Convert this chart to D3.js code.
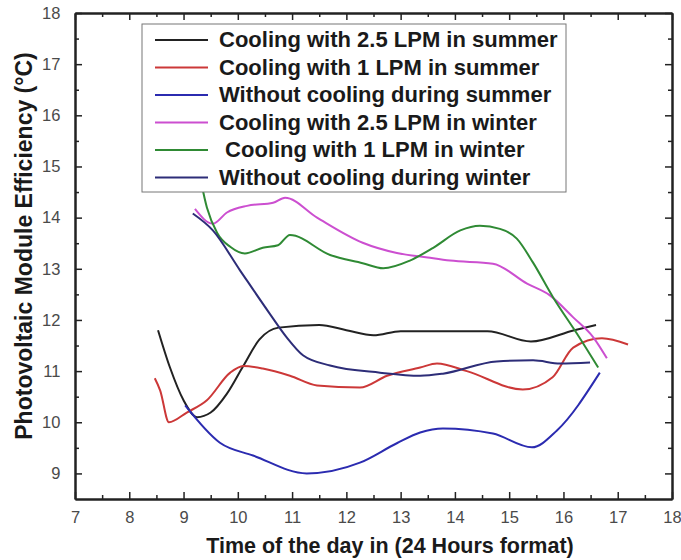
<!DOCTYPE html>
<html>
<head>
<meta charset="utf-8">
<script src="https://cdn.jsdelivr.net/npm/d3@7"></script>
<style>
  body{margin:0;background:#fff;}
  text{font-family:"Liberation Sans",Arial,sans-serif;}
</style>
</head>
<body>
<div id="chart"></div>
<script>
var width=681,height=560;
var margin={left:75,top:13,right:9,bottom:61};

var xTicks=[7,8,9,10,11,12,13,14,15,16,17,18];
var yTicks=[9,10,11,12,13,14,15,16,17,18];

var seriesNames=["Cooling with 2.5 LPM in summer","Cooling with 1 LPM in summer","Without cooling during summer",
                 "Cooling with 2.5 LPM in winter"," Cooling with 1 LPM in winter","Without cooling during winter"];
var colors=["#222222","#cc3838","#2b2bb0","#cc4fd0","#2f8a34","#2d2d78"];

var cool25Summer=[[8.53,11.8],[8.75,11.07],[9.0,10.43],[9.25,10.1],[9.5,10.19],[9.8,10.56],[10.1,11.1],[10.4,11.62],
  [10.75,11.85],[11.5,11.9],[12.0,11.8],[12.5,11.7],[13.0,11.78],[14.6,11.78],[15.4,11.58],[16.2,11.8],[16.6,11.9]];
var cool1Summer=[[8.47,10.86],[8.57,10.62],[8.73,10.0],[9.06,10.19],[9.43,10.43],[9.86,10.97],[10.1,11.1],[10.46,11.05],
  [10.96,10.91],[11.46,10.72],[12.25,10.68],[12.75,10.91],[13.36,11.07],[13.67,11.15],[14.22,11.0],[15.25,10.64],
  [15.8,10.88],[16.18,11.46],[16.71,11.64],[17.19,11.52]];
var noCoolSummer=[[9.03,10.33],[9.67,9.6],[10.28,9.35],[11.27,9.0],[12.25,9.21],[12.93,9.59],[13.36,9.8],[13.78,9.88],
  [14.7,9.78],[15.42,9.51],[15.88,9.84],[16.67,10.97]];
var cool25Winter=[[9.21,14.17],[9.54,13.88],[9.8,14.1],[10.17,14.23],[10.65,14.29],[10.87,14.39],[11.46,14.0],[12.3,13.51],
  [12.93,13.31],[13.5,13.22],[13.91,13.16],[14.7,13.1],[15.33,12.71],[15.75,12.48],[16.18,12.05],[16.55,11.66],[16.8,11.25]];
var cool1Winter=[[9.2,15.4],[9.43,14.2],[9.62,13.7],[9.86,13.43],[10.13,13.3],[10.46,13.41],[10.74,13.46],[10.96,13.66],
  [11.7,13.27],[12.3,13.11],[12.68,13.01],[13.17,13.16],[13.6,13.41],[14.1,13.75],[14.46,13.84],[14.83,13.78],[15.14,13.59],
  [15.44,13.12],[15.81,12.44],[16.25,11.73],[16.64,11.07]];
var noCoolWinter=[[9.17,14.08],[9.54,13.75],[10.04,12.97],[10.59,12.12],[10.9,11.66],[11.2,11.31],[11.7,11.11],[12.62,10.97],
  [13.36,10.91],[13.78,10.95],[14.77,11.19],[15.44,11.21],[15.94,11.15],[16.49,11.17]];

var allSeries=[cool25Summer,cool1Summer,noCoolSummer,cool25Winter,cool1Winter,noCoolWinter];

var svg=d3.select("#chart").append("svg").attr("width",width).attr("height",height);
var x=d3.scaleLinear().domain([7,18]).range([margin.left,width-margin.right]);
var y=d3.scaleLinear().domain([8.5,18]).range([height-margin.bottom,margin.top]);

var plot=svg.append("g");
plot.append("clipPath").attr("id","clip").append("rect")
    .attr("x",x(7)).attr("y",y(18)).attr("width",x(18)-x(7)).attr("height",y(8.5)-y(18));

var line=d3.line().x(d=>x(d[0])).y(d=>y(d[1])).curve(d3.curveMonotoneX);
plot.append("g").attr("clip-path","url(#clip)").selectAll("path")
    .data(allSeries).enter().append("path")
    .attr("d",line).attr("fill","none")
    .attr("stroke",(d,i)=>colors[i]).attr("stroke-width",2);

// axes with inward ticks, mirrored on top and right
var xMinor=d3.range(7.5,18,1), yMinor=d3.range(9.5,18,1);
function addAxis(axisFn,scale,ticks,minor,tr,labels){
  var g=svg.append("g").attr("transform",tr);
  g.call(axisFn(scale).tickValues(ticks).tickSizeInner(-7).tickSizeOuter(0).tickFormat(labels?d3.format("d"):""));
  g.append("g").call(axisFn(scale).tickValues(minor).tickSizeInner(-4).tickSizeOuter(0).tickFormat(""));
  g.selectAll(".domain").attr("stroke","#222").attr("stroke-width",2);
  g.selectAll(".tick line").attr("stroke","#222").attr("stroke-width",1.5);
  g.selectAll("text").attr("font-size",16.5).attr("fill","#4a4a4a");
  return g;
}
var gx=addAxis(d3.axisBottom,x,xTicks,xMinor,"translate(0,"+y(8.5)+")",true);
gx.selectAll("text").attr("dy","1.3em");
// last label sits at the page edge, keep it inside
gx.selectAll(".tick text").filter(d=>d===18).attr("text-anchor","end").attr("dx","0.55em");
addAxis(d3.axisTop,x,xTicks,xMinor,"translate(0,"+y(18)+")",false);
var gy=addAxis(d3.axisLeft,y,yTicks,yMinor,"translate("+x(7)+",0)",true);
gy.selectAll("text").attr("dx","-0.7em");
addAxis(d3.axisRight,y,yTicks,yMinor,"translate("+x(18)+",0)",false);

svg.append("text").attr("x",390).attr("y",553).attr("text-anchor","middle")
   .attr("font-size",21.5).attr("font-weight","bold").attr("fill","#1a1a1a")
   .text("Time of the day in (24 Hours format)");
svg.append("text").attr("transform","translate(32,246) rotate(-90)").attr("text-anchor","middle")
   .attr("font-size",23).attr("font-weight","bold").attr("fill","#1a1a1a")
   .text("Photovoltaic Module Efficiency (°C)");

// legend
var leg=svg.append("g");
leg.append("rect").attr("x",142).attr("y",24).attr("width",424).attr("height",168)
   .attr("fill","#fff").attr("stroke","#777").attr("stroke-width",1);
var rows=leg.selectAll("g").data(seriesNames).enter().append("g")
   .attr("transform",(d,i)=>"translate(0,"+(40+i*27.5)+")");
rows.append("line").attr("x1",155).attr("x2",208).attr("y1",0).attr("y2",0)
   .attr("stroke",(d,i)=>colors[i]).attr("stroke-width",2);
rows.append("text").attr("x",219).attr("y",7).attr("font-size",22).attr("font-weight","bold")
   .attr("fill","#1a1a1a").attr("xml:space","preserve").style("white-space","pre").text(d=>d);
</script>
</body>
</html>
